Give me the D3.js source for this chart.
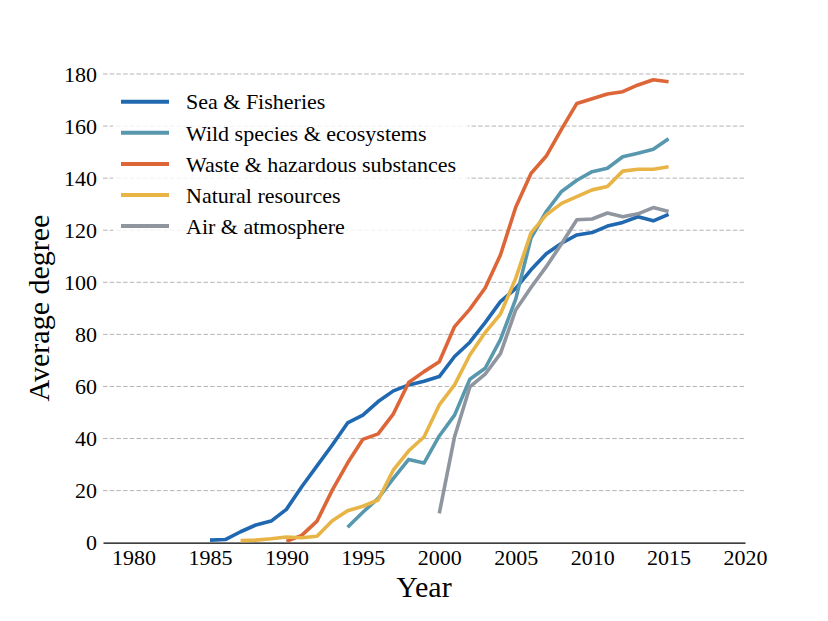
<!DOCTYPE html>
<html>
<head>
<meta charset="utf-8">
<script src="https://cdn.jsdelivr.net/npm/d3@7"></script>
<style>
  html, body { margin: 0; padding: 0; background: #fff; }
  svg, svg text { font-family: "Liberation Serif", "Times New Roman", serif; }
</style>
</head>
<body>
<svg id="chart" width="828" height="621"></svg>
<script>
// ---- data ----
const seriesNames = ["Sea & Fisheries", "Wild species & ecosystems", "Waste & hazardous substances", "Natural resources", "Air & atmosphere"];
const seriesColors = ["#2068b0", "#5898ae", "#dd6638", "#e8b446", "#8f96a0"];
const seriesStart = [1985, 1994, 1990, 1987, 2000];

const seaFisheries = [1, 1.2, 4.2, 6.8, 8.3, 12.8, 21.5, 29.5, 37.5, 46, 49, 54.2, 58.3, 60.6, 62, 63.8, 71.5, 77, 84.5, 92.6, 97.7, 104.8, 111, 115, 118.2, 119.1, 121.6, 123, 125.2, 123.6, 126.1];
const wildSpecies = [5.9, 11.7, 17, 24.7, 32, 30.6, 41, 49, 62.8, 67, 78, 93.5, 117, 127.2, 134.9, 139.2, 142.5, 143.8, 148.2, 149.6, 151.1, 155.1];
const wasteHazardous = [0.5, 2.8, 8.3, 20.2, 30.6, 39.7, 41.8, 49.5, 61.5, 65.7, 69.5, 83, 89.7, 97.8, 110.5, 128.8, 141.8, 148.5, 158.8, 168.7, 170.5, 172.3, 173.2, 175.8, 177.8, 177];
const naturalResources = [0.8, 1, 1.5, 2.2, 1.9, 2.5, 8.4, 12.3, 14, 16.4, 28, 35.3, 40.6, 52.9, 60.6, 72.1, 80.7, 87.8, 101.5, 119, 125.9, 130.3, 132.9, 135.5, 136.8, 142.7, 143.4, 143.4, 144.4];
const airAtmosphere = [11.3, 40.7, 59.8, 64.7, 72.6, 89.4, 98, 106, 114.8, 124, 124.3, 126.6, 125.2, 126.3, 128.7, 127.2];

const xTicks = [1980, 1985, 1990, 1995, 2000, 2005, 2010, 2015, 2020];
const yTicks = [0, 20, 40, 60, 80, 100, 120, 140, 160, 180];

const allValues = [seaFisheries, wildSpecies, wasteHazardous, naturalResources, airAtmosphere];
const series = seriesNames.map((name, i) => ({
  name, color: seriesColors[i],
  points: allValues[i].map((v, j) => ({ year: seriesStart[i] + j, value: v }))
}));

// ---- layout ----
const svg = d3.select("#chart");
const x = d3.scaleLinear().domain([1978, 2020]).range([103, 745]);
const y = d3.scaleLinear().domain([0, 180]).range([542.7, 74]);
const fontSize = 22;
const serif = "Liberation Serif, Times New Roman, serif";

// grid
svg.append("g").selectAll("line").data(yTicks.filter(d => d > 0)).join("line")
  .attr("x1", x.range()[0]).attr("x2", x.range()[1])
  .attr("y1", d => y(d)).attr("y2", d => y(d))
  .attr("stroke", "#b5b5b5").attr("stroke-width", 1)
  .attr("stroke-dasharray", "4.5,2.2");

// x axis
const xAxis = svg.append("g").attr("transform", `translate(0,${y(0)})`)
  .call(d3.axisBottom(x).tickValues(xTicks).tickFormat(d3.format("d")).tickSize(0).tickPadding(7))
  .attr("font-family", serif).attr("font-size", fontSize);
xAxis.select(".domain").attr("stroke", "#000").attr("stroke-width", 1.3);
xAxis.selectAll("text").attr("fill", "#000");

// y axis
const yAxis = svg.append("g").attr("transform", `translate(${x.range()[0]},0)`)
  .call(d3.axisLeft(y).tickValues(yTicks).tickSize(0).tickPadding(6))
  .attr("font-family", serif).attr("font-size", fontSize);
yAxis.select(".domain").remove();
yAxis.selectAll("text").attr("fill", "#000");

// lines
const line = d3.line().x(d => x(d.year)).y(d => y(d.value));
svg.append("g").selectAll("path").data(series).join("path")
  .attr("d", d => line(d.points))
  .attr("fill", "none")
  .attr("stroke", d => d.color)
  .attr("stroke-width", 3.6)
  .attr("stroke-linejoin", "round");

// legend
const lg = svg.append("g").attr("font-family", serif);
lg.append("rect").attr("x", 113).attr("y", 84).attr("width", 355).attr("height", 164)
  .attr("fill", "#fff").attr("fill-opacity", 0.8);
const rowY = i => 101.7 + i * 31.1;
const items = lg.selectAll("g.item").data(series).join("g").attr("class", "item");
items.append("line").attr("x1", 121).attr("x2", 169)
  .attr("y1", (d, i) => rowY(i)).attr("y2", (d, i) => rowY(i))
  .attr("stroke", d => d.color).attr("stroke-width", 4);
items.append("text").attr("x", 186).attr("y", (d, i) => rowY(i)).attr("dy", "0.35em")
  .attr("font-size", fontSize).text(d => d.name);

// axis labels
svg.append("text").attr("x", 424).attr("y", 597).attr("text-anchor", "middle")
  .attr("font-family", serif).attr("font-size", 30).text("Year");
svg.append("text").attr("transform", "translate(49,308) rotate(-90)").attr("text-anchor", "middle")
  .attr("font-family", serif).attr("font-size", 30).text("Average degree");
</script>
</body>
</html>
